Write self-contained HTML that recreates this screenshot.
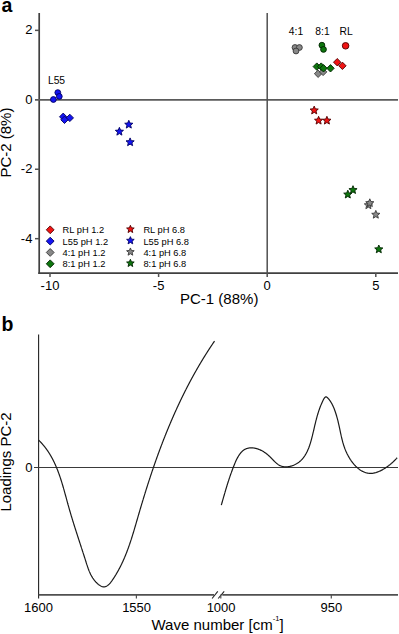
<!DOCTYPE html>
<html><head><meta charset="utf-8"><style>html,body{margin:0;padding:0;background:#fff;width:399px;height:634px;overflow:hidden}svg{display:block}</style></head>
<body><svg width="399" height="634" viewBox="0 0 399 634">
<rect width="399" height="634" fill="#fff"/>
<text x="1.4" y="11.5" font-family="Liberation Sans, sans-serif" font-size="19.5" font-weight="bold" fill="#000">a</text>
<line x1="39.2" y1="13" x2="39.2" y2="274.1" stroke="#404040" stroke-width="1.7"/>
<line x1="38.35" y1="273.2" x2="398" y2="273.2" stroke="#404040" stroke-width="1.7"/>
<line x1="35" y1="99.8" x2="398" y2="99.8" stroke="#5a5a5a" stroke-width="1.8"/>
<line x1="267.2" y1="13" x2="267.2" y2="277" stroke="#505050" stroke-width="1.5"/>
<line x1="35" y1="30.36" x2="39.4" y2="30.36" stroke="#505050" stroke-width="1.5"/>
<line x1="35" y1="169.24" x2="39.4" y2="169.24" stroke="#505050" stroke-width="1.5"/>
<line x1="35" y1="238.68" x2="39.4" y2="238.68" stroke="#505050" stroke-width="1.5"/>
<text x="32.4" y="34.36" font-family="Liberation Sans, sans-serif" font-size="13" text-anchor="end" fill="#000">2</text>
<text x="32.4" y="103.80" font-family="Liberation Sans, sans-serif" font-size="13" text-anchor="end" fill="#000">0</text>
<text x="32.4" y="173.24" font-family="Liberation Sans, sans-serif" font-size="13" text-anchor="end" fill="#000">-2</text>
<text x="32.4" y="242.68" font-family="Liberation Sans, sans-serif" font-size="13" text-anchor="end" fill="#000">-4</text>
<line x1="50.00" y1="273" x2="50.00" y2="277" stroke="#505050" stroke-width="1.5"/>
<line x1="158.60" y1="273" x2="158.60" y2="277" stroke="#505050" stroke-width="1.5"/>
<line x1="375.80" y1="273" x2="375.80" y2="277" stroke="#505050" stroke-width="1.5"/>
<text x="50.00" y="290.2" font-family="Liberation Sans, sans-serif" font-size="13" text-anchor="middle" fill="#000">-10</text>
<text x="158.60" y="290.2" font-family="Liberation Sans, sans-serif" font-size="13" text-anchor="middle" fill="#000">-5</text>
<text x="267.20" y="290.2" font-family="Liberation Sans, sans-serif" font-size="13" text-anchor="middle" fill="#000">0</text>
<text x="375.80" y="290.2" font-family="Liberation Sans, sans-serif" font-size="13" text-anchor="middle" fill="#000">5</text>
<text x="219.2" y="304" font-family="Liberation Sans, sans-serif" font-size="15" text-anchor="middle" fill="#000">PC-1 (88%)</text>
<text transform="translate(11.3,142.6) rotate(-90)" x="0" y="0" font-family="Liberation Sans, sans-serif" font-size="15" text-anchor="middle" fill="#000">PC-2 (8%)</text>
<text x="56.5" y="84.4" font-family="Liberation Sans, sans-serif" font-size="10.3" text-anchor="middle" fill="#000">L55</text>
<text x="296" y="35" font-family="Liberation Sans, sans-serif" font-size="10.3" text-anchor="middle" fill="#000">4:1</text>
<text x="322.5" y="35" font-family="Liberation Sans, sans-serif" font-size="10.3" text-anchor="middle" fill="#000">8:1</text>
<text x="346.2" y="35" font-family="Liberation Sans, sans-serif" font-size="10.3" text-anchor="middle" fill="#000">RL</text>
<circle cx="295" cy="47.5" r="2.9" fill="#888888" stroke="#383838" stroke-width="0.9"/>
<circle cx="299.4" cy="47.5" r="2.9" fill="#888888" stroke="#383838" stroke-width="0.9"/>
<circle cx="296" cy="51" r="2.9" fill="#888888" stroke="#383838" stroke-width="0.9"/>
<circle cx="321.9" cy="45.2" r="2.9" fill="#0e760e" stroke="#002400" stroke-width="0.9"/>
<circle cx="323.5" cy="49.4" r="2.9" fill="#0e760e" stroke="#002400" stroke-width="0.9"/>
<circle cx="345.6" cy="45.8" r="3.3" fill="#f01414" stroke="#500000" stroke-width="0.9"/>
<circle cx="53.4" cy="99.5" r="2.9" fill="#1414f2" stroke="#000060" stroke-width="0.9"/>
<circle cx="57.8" cy="92.6" r="2.9" fill="#1414f2" stroke="#000060" stroke-width="0.9"/>
<circle cx="59.3" cy="96.4" r="2.9" fill="#1414f2" stroke="#000060" stroke-width="0.9"/>
<polygon points="318.1,70.05 321.8,73.75 318.1,77.45 314.40000000000003,73.75" fill="#888888" stroke="#383838" stroke-width="0.9"/>
<polygon points="323.1,68.2 326.8,71.9 323.1,75.60000000000001 319.40000000000003,71.9" fill="#888888" stroke="#383838" stroke-width="0.9"/>
<polygon points="316.8,62.89999999999999 320.5,66.6 316.8,70.3 313.1,66.6" fill="#0e760e" stroke="#002400" stroke-width="0.9"/>
<polygon points="321.2,62.89999999999999 324.9,66.6 321.2,70.3 317.5,66.6" fill="#0e760e" stroke="#002400" stroke-width="0.9"/>
<polygon points="323.5,64.6 327.2,68.3 323.5,72.0 319.8,68.3" fill="#0e760e" stroke="#002400" stroke-width="0.9"/>
<polygon points="330.5,64.6 334.2,68.3 330.5,72.0 326.8,68.3" fill="#0e760e" stroke="#002400" stroke-width="0.9"/>
<polygon points="337.2,58.5 340.9,62.2 337.2,65.9 333.5,62.2" fill="#f01414" stroke="#500000" stroke-width="0.9"/>
<polygon points="342.4,62.099999999999994 346.09999999999997,65.8 342.4,69.5 338.7,65.8" fill="#f01414" stroke="#500000" stroke-width="0.9"/>
<polygon points="63.2,113.1 66.9,116.8 63.2,120.5 59.5,116.8" fill="#1414f2" stroke="#000060" stroke-width="0.9"/>
<polygon points="69.8,114.2 73.5,117.9 69.8,121.60000000000001 66.1,117.9" fill="#1414f2" stroke="#000060" stroke-width="0.9"/>
<polygon points="64.5,116.1 68.2,119.8 64.5,123.5 60.8,119.8" fill="#1414f2" stroke="#000060" stroke-width="0.9"/>
<polygon points="314.20,106.10 315.34,108.83 318.29,109.07 316.04,111.00 316.73,113.88 314.20,112.33 311.67,113.88 312.36,111.00 310.11,109.07 313.06,108.83" fill="#f01414" stroke="#500000" stroke-width="0.9"/>
<polygon points="318.60,116.30 319.74,119.03 322.69,119.27 320.44,121.20 321.13,124.08 318.60,122.53 316.07,124.08 316.76,121.20 314.51,119.27 317.46,119.03" fill="#f01414" stroke="#500000" stroke-width="0.9"/>
<polygon points="326.90,116.30 328.04,119.03 330.99,119.27 328.74,121.20 329.43,124.08 326.90,122.53 324.37,124.08 325.06,121.20 322.81,119.27 325.76,119.03" fill="#f01414" stroke="#500000" stroke-width="0.9"/>
<polygon points="119.40,127.35 120.54,130.08 123.49,130.32 121.24,132.25 121.93,135.13 119.40,133.59 116.87,135.13 117.56,132.25 115.31,130.32 118.26,130.08" fill="#1414f2" stroke="#000060" stroke-width="0.9"/>
<polygon points="128.80,120.30 129.94,123.03 132.89,123.27 130.64,125.20 131.33,128.08 128.80,126.53 126.27,128.08 126.96,125.20 124.71,123.27 127.66,123.03" fill="#1414f2" stroke="#000060" stroke-width="0.9"/>
<polygon points="130.10,137.90 131.24,140.63 134.19,140.87 131.94,142.80 132.63,145.68 130.10,144.13 127.57,145.68 128.26,142.80 126.01,140.87 128.96,140.63" fill="#1414f2" stroke="#000060" stroke-width="0.9"/>
<polygon points="368.40,200.90 369.54,203.63 372.49,203.87 370.24,205.80 370.93,208.68 368.40,207.13 365.87,208.68 366.56,205.80 364.31,203.87 367.26,203.63" fill="#888888" stroke="#383838" stroke-width="0.9"/>
<polygon points="369.80,198.80 370.94,201.53 373.89,201.77 371.64,203.70 372.33,206.58 369.80,205.03 367.27,206.58 367.96,203.70 365.71,201.77 368.66,201.53" fill="#888888" stroke="#383838" stroke-width="0.9"/>
<polygon points="375.80,210.40 376.94,213.13 379.89,213.37 377.64,215.30 378.33,218.18 375.80,216.63 373.27,218.18 373.96,215.30 371.71,213.37 374.66,213.13" fill="#888888" stroke="#383838" stroke-width="0.9"/>
<polygon points="347.80,190.20 348.94,192.93 351.89,193.17 349.64,195.10 350.33,197.98 347.80,196.44 345.27,197.98 345.96,195.10 343.71,193.17 346.66,192.93" fill="#0e760e" stroke="#002400" stroke-width="0.9"/>
<polygon points="353.00,185.70 354.14,188.43 357.09,188.67 354.84,190.60 355.53,193.48 353.00,191.94 350.47,193.48 351.16,190.60 348.91,188.67 351.86,188.43" fill="#0e760e" stroke="#002400" stroke-width="0.9"/>
<polygon points="378.80,245.00 379.94,247.73 382.89,247.97 380.64,249.90 381.33,252.78 378.80,251.23 376.27,252.78 376.96,249.90 374.71,247.97 377.66,247.73" fill="#0e760e" stroke="#002400" stroke-width="0.9"/>
<polygon points="50.2,225.9 54.1,229.8 50.2,233.70000000000002 46.300000000000004,229.8" fill="#f01414" stroke="#500000" stroke-width="0.9"/>
<text x="62.6" y="233.20" font-family="Liberation Sans, sans-serif" font-size="9.3" fill="#000">RL pH 1.2</text>
<polygon points="50.2,237.23000000000002 54.1,241.13000000000002 50.2,245.03000000000003 46.300000000000004,241.13000000000002" fill="#1414f2" stroke="#000060" stroke-width="0.9"/>
<text x="62.6" y="244.53" font-family="Liberation Sans, sans-serif" font-size="9.3" fill="#000">L55 pH 1.2</text>
<polygon points="50.2,248.56 54.1,252.46 50.2,256.36 46.300000000000004,252.46" fill="#888888" stroke="#383838" stroke-width="0.9"/>
<text x="62.6" y="255.86" font-family="Liberation Sans, sans-serif" font-size="9.3" fill="#000">4:1 pH 1.2</text>
<polygon points="50.2,259.89000000000004 54.1,263.79 50.2,267.69 46.300000000000004,263.79" fill="#0e760e" stroke="#002400" stroke-width="0.9"/>
<text x="62.6" y="267.19" font-family="Liberation Sans, sans-serif" font-size="9.3" fill="#000">8:1 pH 1.2</text>
<polygon points="130.40,225.30 131.46,227.84 134.20,228.06 132.11,229.86 132.75,232.54 130.40,231.10 128.05,232.54 128.69,229.86 126.60,228.06 129.34,227.84" fill="#f01414" stroke="#500000" stroke-width="0.9"/>
<text x="143.4" y="233.20" font-family="Liberation Sans, sans-serif" font-size="9.3" fill="#000">RL pH 6.8</text>
<polygon points="130.40,236.63 131.46,239.17 134.20,239.39 132.11,241.19 132.75,243.87 130.40,242.43 128.05,243.87 128.69,241.19 126.60,239.39 129.34,239.17" fill="#1414f2" stroke="#000060" stroke-width="0.9"/>
<text x="143.4" y="244.53" font-family="Liberation Sans, sans-serif" font-size="9.3" fill="#000">L55 pH 6.8</text>
<polygon points="130.40,247.96 131.46,250.50 134.20,250.72 132.11,252.52 132.75,255.20 130.40,253.76 128.05,255.20 128.69,252.52 126.60,250.72 129.34,250.50" fill="#888888" stroke="#383838" stroke-width="0.9"/>
<text x="143.4" y="255.86" font-family="Liberation Sans, sans-serif" font-size="9.3" fill="#000">4:1 pH 6.8</text>
<polygon points="130.40,259.29 131.46,261.83 134.20,262.05 132.11,263.85 132.75,266.53 130.40,265.09 128.05,266.53 128.69,263.85 126.60,262.05 129.34,261.83" fill="#0e760e" stroke="#002400" stroke-width="0.9"/>
<text x="143.4" y="267.19" font-family="Liberation Sans, sans-serif" font-size="9.3" fill="#000">8:1 pH 6.8</text>
<text x="1.4" y="330.6" font-family="Liberation Sans, sans-serif" font-size="19.5" font-weight="bold" fill="#000">b</text>
<line x1="38.6" y1="334.6" x2="38.6" y2="598.5" stroke="#222" stroke-width="1.1"/>
<line x1="38.6" y1="594.9" x2="214" y2="594.9" stroke="#505050" stroke-width="1.6"/>
<line x1="222.3" y1="594.9" x2="398" y2="594.9" stroke="#505050" stroke-width="1.6"/>
<line x1="212.1" y1="598.5" x2="217.8" y2="591.4" stroke="#222" stroke-width="1.1"/>
<line x1="218.2" y1="598.5" x2="224.2" y2="591.4" stroke="#222" stroke-width="1.1"/>
<line x1="34" y1="467.5" x2="398" y2="467.5" stroke="#3a3a3a" stroke-width="1.2"/>
<line x1="136.4" y1="594.6" x2="136.4" y2="598.5" stroke="#505050" stroke-width="1.2"/>
<line x1="220.8" y1="594.6" x2="220.8" y2="598.5" stroke="#505050" stroke-width="1.2"/>
<line x1="331.3" y1="594.6" x2="331.3" y2="598.5" stroke="#505050" stroke-width="1.2"/>
<text x="38.5" y="611.8" font-family="Liberation Sans, sans-serif" font-size="13" text-anchor="middle" fill="#000">1600</text>
<text x="136.6" y="611.8" font-family="Liberation Sans, sans-serif" font-size="13" text-anchor="middle" fill="#000">1550</text>
<text x="221.1" y="611.8" font-family="Liberation Sans, sans-serif" font-size="13" text-anchor="middle" fill="#000">1000</text>
<text x="331.4" y="611.8" font-family="Liberation Sans, sans-serif" font-size="13" text-anchor="middle" fill="#000">950</text>
<text x="151.5" y="630" font-family="Liberation Sans, sans-serif" font-size="15" fill="#000">Wave number [cm<tspan font-size="7.6" dy="-8.6">-1</tspan><tspan dy="8.6">]</tspan></text>
<text x="32.4" y="471.8" font-family="Liberation Sans, sans-serif" font-size="13" text-anchor="end" fill="#000">0</text>
<text transform="translate(11.3,462) rotate(-90)" x="0" y="0" font-family="Liberation Sans, sans-serif" font-size="15" text-anchor="middle" fill="#000">Loadings PC-2</text>
<path d="M38.74,440.23 L39.10,440.58 L39.47,440.94 L39.83,441.30 L40.18,441.67 L40.53,442.03 L40.88,442.40 L41.23,442.77 L41.57,443.14 L41.91,443.51 L42.24,443.89 L42.57,444.27 L42.90,444.65 L43.22,445.03 L43.55,445.41 L43.87,445.79 L44.18,446.18 L44.49,446.57 L44.80,446.96 L45.11,447.35 L45.41,447.75 L45.71,448.14 L46.01,448.54 L46.30,448.94 L46.59,449.34 L46.88,449.74 L47.17,450.15 L47.45,450.56 L47.73,450.96 L48.01,451.37 L48.28,451.78 L48.55,452.20 L48.82,452.61 L49.09,453.03 L49.35,453.45 L49.61,453.86 L49.87,454.29 L50.12,454.71 L50.38,455.13 L50.63,455.56 L50.87,455.98 L51.12,456.41 L51.36,456.84 L51.60,457.27 L51.84,457.70 L52.08,458.14 L52.31,458.57 L52.54,459.01 L52.77,459.45 L52.99,459.89 L53.22,460.33 L53.44,460.77 L53.66,461.21 L53.88,461.65 L54.09,462.10 L54.31,462.55 L54.52,462.99 L54.73,463.44 L54.93,463.89 L55.14,464.34 L55.34,464.80 L55.54,465.25 L55.74,465.70 L55.94,466.16 L56.13,466.62 L56.33,467.07 L56.52,467.53 L56.71,467.99 L56.90,468.45 L57.09,468.91 L57.27,469.38 L57.45,469.84 L57.64,470.30 L57.82,470.77 L57.99,471.23 L58.17,471.70 L58.35,472.17 L58.52,472.64 L58.69,473.11 L58.86,473.58 L59.03,474.05 L59.20,474.52 L59.37,474.99 L59.53,475.46 L59.70,475.94 L59.86,476.41 L60.02,476.89 L60.18,477.36 L60.34,477.84 L60.50,478.32 L60.65,478.79 L60.81,479.27 L60.96,479.75 L61.12,480.23 L61.27,480.71 L61.42,481.19 L61.57,481.67 L61.72,482.15 L61.87,482.63 L62.02,483.12 L62.16,483.60 L62.31,484.08 L62.45,484.56 L62.60,485.05 L62.74,485.53 L62.88,486.02 L63.02,486.50 L63.17,486.99 L63.31,487.47 L63.45,487.96 L63.59,488.44 L63.72,488.93 L63.86,489.41 L64.00,489.90 L64.14,490.39 L64.27,490.87 L64.41,491.36 L64.54,491.85 L64.68,492.33 L64.81,492.82 L64.95,493.31 L65.08,493.80 L65.22,494.28 L65.35,494.77 L65.48,495.26 L65.62,495.75 L65.75,496.23 L65.88,496.72 L66.02,497.21 L66.15,497.69 L66.28,498.18 L66.41,498.67 L66.55,499.16 L66.68,499.64 L66.81,500.13 L66.94,500.61 L67.08,501.10 L67.21,501.59 L67.34,502.07 L67.48,502.56 L67.61,503.04 L67.74,503.53 L67.88,504.01 L68.01,504.50 L68.15,504.98 L68.28,505.46 L68.42,505.95 L68.55,506.43 L68.69,506.91 L68.82,507.39 L68.96,507.87 L69.10,508.35 L69.24,508.84 L69.37,509.32 L69.51,509.80 L69.65,510.28 L69.79,510.75 L69.93,511.23 L70.07,511.71 L70.21,512.19 L70.35,512.67 L70.49,513.15 L70.63,513.62 L70.77,514.10 L70.91,514.58 L71.06,515.05 L71.20,515.53 L71.34,516.01 L71.49,516.48 L71.63,516.96 L71.77,517.43 L71.92,517.91 L72.06,518.38 L72.21,518.86 L72.35,519.33 L72.50,519.80 L72.64,520.28 L72.79,520.75 L72.93,521.22 L73.08,521.70 L73.23,522.17 L73.37,522.64 L73.52,523.12 L73.67,523.59 L73.82,524.06 L73.96,524.53 L74.11,525.01 L74.26,525.48 L74.41,525.95 L74.56,526.42 L74.71,526.89 L74.86,527.36 L75.00,527.84 L75.15,528.31 L75.30,528.78 L75.45,529.25 L75.60,529.72 L75.76,530.19 L75.91,530.66 L76.06,531.13 L76.21,531.60 L76.36,532.08 L76.51,532.55 L76.66,533.02 L76.81,533.49 L76.97,533.96 L77.12,534.43 L77.27,534.90 L77.42,535.37 L77.57,535.84 L77.73,536.31 L77.88,536.79 L78.03,537.26 L78.19,537.73 L78.34,538.20 L78.49,538.67 L78.64,539.14 L78.80,539.61 L78.95,540.09 L79.11,540.56 L79.26,541.03 L79.41,541.50 L79.57,541.97 L79.72,542.45 L79.87,542.92 L80.03,543.39 L80.18,543.86 L80.34,544.34 L80.49,544.81 L80.65,545.28 L80.80,545.76 L80.95,546.23 L81.11,546.70 L81.26,547.18 L81.42,547.65 L81.57,548.13 L81.73,548.60 L81.88,549.07 L82.04,549.55 L82.19,550.03 L82.34,550.50 L82.50,550.98 L82.65,551.45 L82.81,551.93 L82.96,552.41 L83.12,552.88 L83.27,553.36 L83.43,553.84 L83.58,554.32 L83.74,554.79 L83.89,555.27 L84.04,555.75 L84.20,556.23 L84.35,556.71 L84.51,557.19 L84.66,557.67 L84.82,558.15 L84.97,558.63 L85.12,559.11 L85.28,559.59 L85.43,560.08 L85.58,560.56 L85.74,561.04 L85.89,561.53 L86.04,562.01 L86.20,562.49 L86.35,562.98 L86.51,563.46 L86.66,563.95 L86.82,564.43 L86.97,564.92 L87.13,565.40 L87.29,565.88 L87.45,566.37 L87.61,566.85 L87.78,567.33 L87.95,567.82 L88.12,568.30 L88.29,568.78 L88.47,569.25 L88.65,569.73 L88.83,570.21 L89.02,570.68 L89.21,571.15 L89.40,571.63 L89.60,572.10 L89.81,572.56 L90.02,573.03 L90.23,573.49 L90.45,573.95 L90.68,574.41 L90.91,574.87 L91.15,575.32 L91.40,575.77 L91.65,576.22 L91.91,576.67 L92.17,577.11 L92.44,577.55 L92.72,577.99 L93.01,578.42 L93.31,578.85 L93.61,579.27 L93.93,579.70 L94.25,580.11 L94.58,580.53 L94.92,580.94 L95.27,581.35 L95.62,581.75 L95.99,582.15 L96.37,582.54 L96.76,582.93 L97.15,583.31 L97.56,583.68 L97.97,584.03 L98.38,584.38 L98.80,584.71 L99.22,585.03 L99.65,585.32 L100.07,585.60 L100.50,585.85 L100.92,586.08 L101.35,586.28 L101.77,586.46 L102.19,586.61 L102.60,586.73 L103.01,586.81 L103.41,586.86 L103.80,586.88 L104.19,586.88 L104.58,586.84 L104.96,586.77 L105.33,586.68 L105.70,586.56 L106.07,586.42 L106.43,586.25 L106.78,586.06 L107.13,585.85 L107.48,585.61 L107.82,585.36 L108.16,585.09 L108.49,584.80 L108.82,584.50 L109.15,584.18 L109.47,583.84 L109.79,583.50 L110.10,583.14 L110.41,582.76 L110.72,582.38 L111.02,581.99 L111.33,581.59 L111.62,581.19 L111.92,580.78 L112.21,580.36 L112.50,579.94 L112.79,579.52 L113.08,579.09 L113.36,578.67 L113.64,578.24 L113.92,577.82 L114.20,577.39 L114.47,576.96 L114.75,576.53 L115.02,576.10 L115.28,575.67 L115.55,575.23 L115.81,574.80 L116.08,574.37 L116.34,573.93 L116.59,573.50 L116.85,573.06 L117.10,572.62 L117.36,572.18 L117.61,571.74 L117.85,571.30 L118.10,570.86 L118.34,570.42 L118.58,569.98 L118.82,569.54 L119.06,569.09 L119.30,568.65 L119.53,568.20 L119.77,567.75 L120.00,567.31 L120.23,566.86 L120.45,566.41 L120.68,565.96 L120.90,565.51 L121.12,565.06 L121.35,564.61 L121.56,564.16 L121.78,563.71 L122.00,563.25 L122.21,562.80 L122.42,562.35 L122.63,561.89 L122.84,561.43 L123.05,560.98 L123.26,560.52 L123.46,560.06 L123.66,559.61 L123.86,559.15 L124.06,558.69 L124.26,558.23 L124.46,557.77 L124.66,557.31 L124.85,556.84 L125.04,556.38 L125.23,555.92 L125.42,555.46 L125.61,554.99 L125.80,554.53 L125.99,554.06 L126.17,553.60 L126.35,553.13 L126.54,552.66 L126.72,552.20 L126.90,551.73 L127.08,551.26 L127.25,550.79 L127.43,550.33 L127.61,549.86 L127.78,549.39 L127.95,548.92 L128.13,548.45 L128.30,547.98 L128.47,547.51 L128.63,547.03 L128.80,546.56 L128.97,546.09 L129.14,545.62 L129.30,545.14 L129.46,544.67 L129.63,544.20 L129.79,543.72 L129.95,543.25 L130.11,542.77 L130.27,542.30 L130.43,541.82 L130.59,541.35 L130.74,540.87 L130.90,540.39 L131.06,539.92 L131.21,539.44 L131.36,538.96 L131.52,538.49 L131.67,538.01 L131.82,537.53 L131.97,537.05 L132.12,536.57 L132.27,536.10 L132.42,535.62 L132.57,535.14 L132.72,534.66 L132.87,534.18 L133.02,533.70 L133.16,533.22 L133.31,532.74 L133.45,532.26 L133.60,531.78 L133.74,531.30 L133.89,530.82 L134.03,530.34 L134.18,529.86 L134.32,529.38 L134.46,528.90 L134.60,528.42 L134.75,527.93 L134.89,527.45 L135.03,526.97 L135.17,526.49 L135.31,526.01 L135.45,525.53 L135.59,525.05 L135.73,524.57 L135.87,524.08 L136.01,523.60 L136.15,523.12 L136.29,522.64 L136.43,522.16 L136.57,521.68 L136.71,521.19 L136.85,520.71 L136.99,520.23 L137.13,519.75 L137.27,519.27 L137.40,518.79 L137.54,518.31 L137.68,517.83 L137.82,517.34 L137.96,516.86 L138.10,516.38 L138.24,515.90 L138.38,515.42 L138.52,514.94 L138.66,514.46 L138.80,513.98 L138.94,513.50 L139.08,513.02 L139.22,512.54 L139.36,512.06 L139.50,511.58 L139.64,511.10 L139.78,510.62 L139.93,510.14 L140.07,509.66 L140.21,509.18 L140.35,508.70 L140.49,508.23 L140.63,507.75 L140.78,507.27 L140.92,506.79 L141.06,506.31 L141.20,505.83 L141.35,505.35 L141.49,504.88 L141.63,504.40 L141.78,503.92 L141.92,503.44 L142.06,502.96 L142.21,502.49 L142.35,502.01 L142.49,501.53 L142.64,501.05 L142.78,500.58 L142.93,500.10 L143.07,499.62 L143.22,499.15 L143.36,498.67 L143.51,498.19 L143.65,497.72 L143.80,497.24 L143.95,496.76 L144.09,496.29 L144.24,495.81 L144.39,495.33 L144.53,494.86 L144.68,494.38 L144.83,493.91 L144.97,493.43 L145.12,492.95 L145.27,492.48 L145.42,492.00 L145.57,491.53 L145.71,491.05 L145.86,490.58 L146.01,490.10 L146.16,489.63 L146.31,489.15 L146.46,488.68 L146.61,488.20 L146.76,487.73 L146.91,487.25 L147.06,486.78 L147.21,486.31 L147.36,485.83 L147.51,485.36 L147.67,484.88 L147.82,484.41 L147.97,483.94 L148.12,483.46 L148.27,482.99 L148.43,482.52 L148.58,482.04 L148.73,481.57 L148.89,481.10 L149.04,480.62 L149.19,480.15 L149.35,479.68 L149.50,479.20 L149.66,478.73 L149.81,478.26 L149.97,477.79 L150.12,477.31 L150.28,476.84 L150.43,476.37 L150.59,475.90 L150.75,475.42 L150.90,474.95 L151.06,474.48 L151.22,474.01 L151.38,473.54 L151.53,473.06 L151.69,472.59 L151.85,472.12 L152.01,471.65 L152.17,471.18 L152.33,470.71 L152.49,470.24 L152.65,469.76 L152.81,469.29 L152.97,468.82 L153.13,468.35 L153.29,467.88 L153.45,467.41 L153.61,466.94 L153.78,466.47 L153.94,466.00 L154.10,465.53 L154.26,465.06 L154.43,464.59 L154.59,464.12 L154.75,463.65 L154.92,463.18 L155.08,462.71 L155.25,462.24 L155.41,461.77 L155.58,461.30 L155.74,460.83 L155.91,460.36 L156.08,459.89 L156.24,459.42 L156.41,458.95 L156.58,458.48 L156.74,458.01 L156.91,457.54 L157.08,457.07 L157.25,456.61 L157.42,456.14 L157.59,455.67 L157.76,455.20 L157.93,454.73 L158.10,454.26 L158.27,453.79 L158.44,453.33 L158.61,452.86 L158.78,452.39 L158.96,451.92 L159.13,451.45 L159.30,450.99 L159.47,450.52 L159.65,450.05 L159.82,449.58 L160.00,449.11 L160.17,448.65 L160.35,448.18 L160.52,447.71 L160.70,447.24 L160.87,446.78 L161.05,446.31 L161.23,445.84 L161.40,445.38 L161.58,444.91 L161.76,444.44 L161.94,443.98 L162.11,443.51 L162.29,443.04 L162.47,442.58 L162.65,442.11 L162.83,441.65 L163.01,441.18 L163.19,440.72 L163.37,440.25 L163.56,439.78 L163.74,439.32 L163.92,438.85 L164.10,438.39 L164.29,437.92 L164.47,437.46 L164.65,436.99 L164.84,436.53 L165.02,436.06 L165.21,435.60 L165.39,435.14 L165.58,434.67 L165.76,434.21 L165.95,433.74 L166.13,433.28 L166.32,432.82 L166.51,432.35 L166.70,431.89 L166.88,431.43 L167.07,430.96 L167.26,430.50 L167.45,430.04 L167.64,429.58 L167.83,429.11 L168.02,428.65 L168.21,428.19 L168.40,427.73 L168.60,427.26 L168.79,426.80 L168.98,426.34 L169.17,425.88 L169.37,425.42 L169.56,424.96 L169.75,424.50 L169.95,424.04 L170.14,423.57 L170.34,423.11 L170.53,422.65 L170.73,422.19 L170.92,421.73 L171.12,421.27 L171.32,420.81 L171.52,420.35 L171.71,419.90 L171.91,419.44 L172.11,418.98 L172.31,418.52 L172.51,418.06 L172.71,417.60 L172.91,417.14 L173.11,416.68 L173.31,416.23 L173.51,415.77 L173.71,415.31 L173.92,414.85 L174.12,414.40 L174.32,413.94 L174.53,413.48 L174.73,413.03 L174.93,412.57 L175.14,412.11 L175.34,411.66 L175.55,411.20 L175.76,410.74 L175.96,410.29 L176.17,409.83 L176.38,409.38 L176.58,408.92 L176.79,408.47 L177.00,408.01 L177.21,407.56 L177.42,407.10 L177.63,406.65 L177.84,406.20 L178.05,405.74 L178.26,405.29 L178.47,404.84 L178.68,404.38 L178.90,403.93 L179.11,403.48 L179.32,403.03 L179.53,402.57 L179.75,402.12 L179.96,401.67 L180.18,401.22 L180.39,400.77 L180.61,400.32 L180.83,399.86 L181.04,399.41 L181.26,398.96 L181.48,398.51 L181.69,398.06 L181.91,397.61 L182.13,397.16 L182.35,396.71 L182.57,396.26 L182.79,395.82 L183.01,395.37 L183.23,394.92 L183.45,394.47 L183.67,394.02 L183.90,393.57 L184.12,393.13 L184.34,392.68 L184.57,392.23 L184.79,391.79 L185.01,391.34 L185.24,390.89 L185.46,390.45 L185.69,390.00 L185.92,389.56 L186.14,389.11 L186.37,388.66 L186.60,388.22 L186.83,387.78 L187.06,387.33 L187.28,386.89 L187.51,386.44 L187.74,386.00 L187.97,385.56 L188.20,385.11 L188.44,384.67 L188.67,384.23 L188.90,383.79 L189.13,383.34 L189.37,382.90 L189.60,382.46 L189.83,382.02 L190.07,381.58 L190.30,381.14 L190.54,380.70 L190.77,380.26 L191.01,379.82 L191.25,379.38 L191.48,378.94 L191.72,378.50 L191.96,378.06 L192.20,377.62 L192.44,377.18 L192.68,376.74 L192.92,376.31 L193.16,375.87 L193.40,375.43 L193.64,375.00 L193.88,374.56 L194.13,374.12 L194.37,373.69 L194.61,373.25 L194.86,372.81 L195.10,372.38 L195.35,371.94 L195.59,371.51 L195.84,371.08 L196.08,370.64 L196.33,370.21 L196.58,369.77 L196.82,369.34 L197.07,368.91 L197.32,368.48 L197.57,368.04 L197.82,367.61 L198.07,367.18 L198.32,366.75 L198.57,366.32 L198.82,365.89 L199.08,365.46 L199.33,365.03 L199.58,364.60 L199.84,364.17 L200.09,363.74 L200.34,363.31 L200.60,362.88 L200.86,362.45 L201.11,362.03 L201.37,361.60 L201.63,361.17 L201.88,360.74 L202.14,360.32 L202.40,359.89 L202.66,359.47 L202.92,359.04 L203.18,358.61 L203.44,358.19 L203.70,357.76 L203.96,357.34 L204.22,356.92 L204.49,356.49 L204.75,356.07 L205.01,355.65 L205.28,355.22 L205.54,354.80 L205.81,354.38 L206.07,353.96 L206.34,353.54 L206.61,353.12 L206.87,352.70 L207.14,352.28 L207.41,351.86 L207.68,351.44 L207.95,351.02 L208.22,350.60 L208.49,350.18 L208.76,349.76 L209.03,349.34 L209.30,348.93 L209.57,348.51 L209.85,348.09 L210.12,347.68 L210.39,347.26 L210.67,346.84 L210.94,346.43 L211.22,346.01 L211.50,345.60 L211.77,345.19 L212.05,344.77 L212.33,344.36 L212.60,343.94 L212.88,343.53 L213.16,343.12 L213.44,342.71 L213.72,342.30 L214.00,341.88 L214.29,341.47 L214.57,341.06" fill="none" stroke="#1a1a1a" stroke-width="1.2" stroke-linejoin="round"/>
<path d="M221.29,505.18 L221.45,504.63 L221.60,504.10 L221.76,503.56 L221.91,503.03 L222.06,502.50 L222.21,501.98 L222.36,501.46 L222.51,500.95 L222.65,500.44 L222.80,499.93 L222.94,499.42 L223.09,498.92 L223.23,498.42 L223.37,497.93 L223.51,497.44 L223.65,496.95 L223.79,496.46 L223.93,495.98 L224.07,495.50 L224.21,495.02 L224.35,494.54 L224.48,494.07 L224.62,493.60 L224.75,493.13 L224.89,492.66 L225.03,492.20 L225.16,491.73 L225.30,491.27 L225.43,490.81 L225.57,490.35 L225.70,489.90 L225.84,489.44 L225.97,488.99 L226.11,488.53 L226.24,488.08 L226.38,487.63 L226.52,487.18 L226.65,486.73 L226.79,486.28 L226.93,485.84 L227.06,485.39 L227.20,484.94 L227.34,484.49 L227.48,484.05 L227.62,483.60 L227.76,483.15 L227.90,482.71 L228.04,482.26 L228.19,481.81 L228.33,481.36 L228.48,480.92 L228.62,480.47 L228.77,480.02 L228.92,479.57 L229.07,479.11 L229.22,478.66 L229.37,478.21 L229.52,477.75 L229.68,477.30 L229.83,476.84 L229.99,476.38 L230.15,475.92 L230.31,475.46 L230.47,475.00 L230.63,474.53 L230.80,474.06 L230.97,473.59 L231.13,473.12 L231.31,472.65 L231.48,472.17 L231.65,471.69 L231.83,471.21 L232.01,470.72 L232.19,470.24 L232.37,469.75 L232.55,469.25 L232.74,468.76 L232.93,468.26 L233.12,467.76 L233.31,467.25 L233.51,466.74 L233.71,466.23 L233.91,465.72 L234.11,465.20 L234.32,464.69 L234.53,464.17 L234.74,463.66 L234.96,463.14 L235.18,462.63 L235.40,462.11 L235.63,461.60 L235.86,461.09 L236.09,460.58 L236.33,460.08 L236.57,459.58 L236.82,459.09 L237.07,458.60 L237.32,458.11 L237.58,457.63 L237.84,457.16 L238.11,456.69 L238.38,456.23 L238.66,455.78 L238.94,455.34 L239.23,454.90 L239.52,454.48 L239.82,454.06 L240.12,453.66 L240.43,453.26 L240.74,452.88 L241.06,452.51 L241.38,452.15 L241.72,451.80 L242.05,451.47 L242.39,451.14 L242.74,450.84 L243.10,450.55 L243.46,450.27 L243.83,450.01 L244.20,449.76 L244.58,449.53 L244.97,449.31 L245.36,449.11 L245.76,448.93 L246.17,448.76 L246.57,448.60 L246.99,448.46 L247.41,448.34 L247.83,448.22 L248.26,448.13 L248.69,448.04 L249.12,447.97 L249.56,447.91 L250.01,447.87 L250.45,447.84 L250.90,447.82 L251.35,447.82 L251.81,447.82 L252.26,447.84 L252.72,447.88 L253.18,447.92 L253.64,447.98 L254.11,448.04 L254.57,448.12 L255.04,448.21 L255.50,448.32 L255.97,448.43 L256.44,448.55 L256.91,448.69 L257.37,448.83 L257.84,448.99 L258.31,449.15 L258.77,449.33 L259.24,449.51 L259.70,449.71 L260.17,449.91 L260.63,450.12 L261.09,450.35 L261.54,450.58 L262.00,450.82 L262.45,451.07 L262.90,451.32 L263.35,451.59 L263.79,451.86 L264.23,452.14 L264.67,452.43 L265.10,452.73 L265.53,453.03 L265.96,453.34 L266.38,453.66 L266.79,453.98 L267.20,454.31 L267.61,454.65 L268.01,454.99 L268.40,455.34 L268.79,455.70 L269.18,456.06 L269.56,456.42 L269.94,456.79 L270.31,457.16 L270.68,457.53 L271.05,457.90 L271.42,458.28 L271.78,458.65 L272.15,459.02 L272.51,459.39 L272.87,459.76 L273.23,460.13 L273.59,460.50 L273.95,460.86 L274.31,461.21 L274.67,461.57 L275.03,461.91 L275.40,462.25 L275.77,462.58 L276.13,462.91 L276.51,463.22 L276.88,463.53 L277.26,463.83 L277.65,464.12 L278.03,464.39 L278.43,464.66 L278.82,464.91 L279.23,465.15 L279.63,465.38 L280.05,465.59 L280.47,465.79 L280.90,465.97 L281.34,466.14 L281.78,466.29 L282.23,466.42 L282.69,466.54 L283.16,466.63 L283.64,466.71 L284.12,466.77 L284.61,466.82 L285.10,466.85 L285.60,466.86 L286.10,466.86 L286.61,466.84 L287.12,466.81 L287.63,466.76 L288.14,466.70 L288.65,466.63 L289.17,466.54 L289.68,466.44 L290.19,466.32 L290.70,466.19 L291.21,466.06 L291.72,465.91 L292.22,465.74 L292.71,465.57 L293.21,465.39 L293.69,465.19 L294.17,464.99 L294.64,464.78 L295.11,464.56 L295.56,464.33 L296.01,464.09 L296.45,463.84 L296.88,463.59 L297.31,463.32 L297.72,463.05 L298.13,462.77 L298.53,462.48 L298.92,462.19 L299.30,461.89 L299.68,461.58 L300.05,461.26 L300.41,460.94 L300.77,460.61 L301.12,460.27 L301.46,459.93 L301.79,459.58 L302.12,459.22 L302.44,458.86 L302.75,458.49 L303.06,458.12 L303.36,457.74 L303.66,457.35 L303.95,456.96 L304.23,456.56 L304.51,456.16 L304.78,455.75 L305.05,455.34 L305.31,454.92 L305.56,454.50 L305.81,454.08 L306.05,453.65 L306.29,453.21 L306.53,452.77 L306.76,452.33 L306.98,451.89 L307.20,451.44 L307.41,450.98 L307.62,450.52 L307.83,450.06 L308.03,449.60 L308.23,449.13 L308.42,448.67 L308.61,448.19 L308.79,447.72 L308.98,447.24 L309.15,446.76 L309.33,446.28 L309.50,445.80 L309.66,445.31 L309.83,444.82 L309.99,444.34 L310.15,443.84 L310.30,443.35 L310.45,442.86 L310.60,442.37 L310.75,441.87 L310.89,441.37 L311.03,440.88 L311.17,440.38 L311.31,439.88 L311.44,439.39 L311.58,438.89 L311.71,438.39 L311.84,437.89 L311.96,437.40 L312.09,436.90 L312.21,436.40 L312.34,435.91 L312.46,435.41 L312.58,434.92 L312.70,434.43 L312.82,433.93 L312.93,433.44 L313.05,432.95 L313.17,432.46 L313.28,431.97 L313.40,431.49 L313.51,431.00 L313.62,430.51 L313.74,430.03 L313.85,429.54 L313.96,429.06 L314.07,428.58 L314.18,428.09 L314.30,427.61 L314.41,427.13 L314.52,426.65 L314.63,426.17 L314.74,425.69 L314.86,425.21 L314.97,424.73 L315.09,424.25 L315.20,423.77 L315.31,423.29 L315.43,422.82 L315.55,422.34 L315.66,421.86 L315.78,421.39 L315.90,420.91 L316.02,420.43 L316.15,419.96 L316.27,419.48 L316.39,419.00 L316.52,418.53 L316.65,418.05 L316.78,417.58 L316.91,417.10 L317.04,416.62 L317.17,416.15 L317.31,415.67 L317.45,415.20 L317.59,414.72 L317.73,414.24 L317.87,413.77 L318.02,413.29 L318.17,412.81 L318.32,412.34 L318.48,411.86 L318.63,411.38 L318.79,410.90 L318.95,410.42 L319.12,409.94 L319.29,409.46 L319.46,408.98 L319.63,408.50 L319.81,408.02 L319.99,407.54 L320.17,407.06 L320.36,406.57 L320.55,406.09 L320.74,405.61 L320.94,405.12 L321.14,404.64 L321.34,404.15 L321.55,403.66 L321.76,403.18 L321.98,402.69 L322.20,402.20 L322.42,401.71 L322.65,401.22 L322.88,400.72 L323.12,400.24 L323.36,399.76 L323.60,399.30 L323.85,398.87 L324.11,398.46 L324.37,398.08 L324.63,397.75 L324.89,397.46 L325.17,397.22 L325.44,397.04 L325.72,396.93 L326.01,396.88 L326.29,396.91 L326.59,397.02 L326.88,397.19 L327.18,397.43 L327.48,397.70 L327.77,397.99 L328.06,398.30 L328.34,398.61 L328.62,398.93 L328.90,399.26 L329.17,399.60 L329.44,399.95 L329.70,400.31 L329.96,400.67 L330.22,401.04 L330.47,401.42 L330.72,401.80 L330.96,402.19 L331.20,402.59 L331.44,403.00 L331.67,403.41 L331.90,403.83 L332.12,404.25 L332.34,404.68 L332.56,405.12 L332.77,405.56 L332.99,406.01 L333.19,406.46 L333.40,406.92 L333.60,407.38 L333.79,407.84 L333.99,408.31 L334.18,408.79 L334.37,409.27 L334.55,409.75 L334.73,410.24 L334.91,410.73 L335.09,411.22 L335.26,411.72 L335.43,412.22 L335.60,412.72 L335.76,413.22 L335.92,413.73 L336.08,414.24 L336.24,414.75 L336.39,415.26 L336.55,415.78 L336.70,416.29 L336.84,416.81 L336.99,417.33 L337.13,417.85 L337.27,418.37 L337.41,418.89 L337.54,419.41 L337.68,419.93 L337.81,420.45 L337.94,420.97 L338.06,421.49 L338.19,422.01 L338.31,422.53 L338.44,423.04 L338.56,423.56 L338.67,424.08 L338.79,424.59 L338.91,425.10 L339.02,425.61 L339.13,426.12 L339.24,426.62 L339.35,427.13 L339.46,427.63 L339.57,428.13 L339.67,428.63 L339.78,429.13 L339.88,429.62 L339.99,430.12 L340.09,430.61 L340.20,431.10 L340.30,431.59 L340.40,432.08 L340.51,432.57 L340.61,433.05 L340.71,433.53 L340.82,434.02 L340.92,434.50 L341.03,434.98 L341.13,435.46 L341.24,435.93 L341.34,436.41 L341.45,436.88 L341.56,437.36 L341.67,437.83 L341.78,438.30 L341.90,438.77 L342.01,439.24 L342.13,439.71 L342.25,440.18 L342.37,440.64 L342.49,441.11 L342.62,441.58 L342.74,442.04 L342.87,442.50 L343.00,442.97 L343.14,443.43 L343.27,443.89 L343.41,444.35 L343.55,444.81 L343.70,445.27 L343.85,445.73 L344.00,446.19 L344.16,446.65 L344.31,447.10 L344.48,447.56 L344.64,448.02 L344.81,448.48 L344.99,448.93 L345.16,449.39 L345.35,449.84 L345.53,450.30 L345.72,450.76 L345.92,451.21 L346.12,451.67 L346.32,452.12 L346.53,452.58 L346.74,453.03 L346.96,453.49 L347.19,453.94 L347.42,454.40 L347.65,454.85 L347.89,455.31 L348.13,455.76 L348.38,456.21 L348.63,456.66 L348.89,457.11 L349.15,457.55 L349.42,458.00 L349.69,458.44 L349.96,458.88 L350.24,459.32 L350.53,459.75 L350.82,460.18 L351.11,460.61 L351.41,461.03 L351.71,461.45 L352.02,461.87 L352.33,462.28 L352.64,462.69 L352.96,463.09 L353.29,463.49 L353.61,463.89 L353.95,464.27 L354.28,464.66 L354.62,465.04 L354.96,465.41 L355.31,465.78 L355.66,466.14 L356.02,466.49 L356.38,466.84 L356.74,467.18 L357.11,467.52 L357.48,467.84 L357.85,468.16 L358.23,468.48 L358.61,468.78 L358.99,469.08 L359.38,469.37 L359.77,469.65 L360.17,469.92 L360.57,470.18 L360.97,470.44 L361.37,470.68 L361.78,470.92 L362.19,471.15 L362.61,471.36 L363.03,471.57 L363.45,471.77 L363.87,471.96 L364.30,472.13 L364.73,472.30 L365.16,472.45 L365.60,472.60 L366.04,472.73 L366.48,472.85 L366.93,472.96 L367.37,473.06 L367.82,473.14 L368.28,473.22 L368.73,473.28 L369.19,473.32 L369.65,473.36 L370.12,473.38 L370.59,473.39 L371.05,473.38 L371.53,473.37 L372.00,473.33 L372.48,473.29 L372.96,473.23 L373.44,473.15 L373.92,473.06 L374.40,472.96 L374.89,472.85 L375.38,472.72 L375.87,472.59 L376.35,472.44 L376.84,472.28 L377.33,472.11 L377.82,471.93 L378.31,471.74 L378.80,471.53 L379.29,471.32 L379.78,471.10 L380.26,470.88 L380.75,470.64 L381.23,470.39 L381.72,470.14 L382.20,469.88 L382.68,469.62 L383.15,469.34 L383.63,469.06 L384.10,468.78 L384.56,468.48 L385.03,468.19 L385.49,467.89 L385.95,467.58 L386.40,467.27 L386.85,466.96 L387.30,466.64 L387.74,466.32 L388.17,465.99 L388.61,465.67 L389.03,465.34 L389.45,465.01 L389.87,464.68 L390.28,464.35 L390.68,464.01 L391.08,463.68 L391.47,463.35 L391.85,463.01 L392.23,462.68 L392.60,462.35 L392.96,462.02 L393.32,461.69 L393.66,461.36 L394.00,461.04 L394.33,460.72 L394.66,460.40 L394.97,460.09 L395.27,459.78 L395.57,459.47 L395.86,459.17 L396.13,458.87 L396.40,458.58 L396.66,458.29 L396.90,458.01 L397.14,457.74" fill="none" stroke="#1a1a1a" stroke-width="1.2" stroke-linejoin="round"/>
</svg></body></html>
